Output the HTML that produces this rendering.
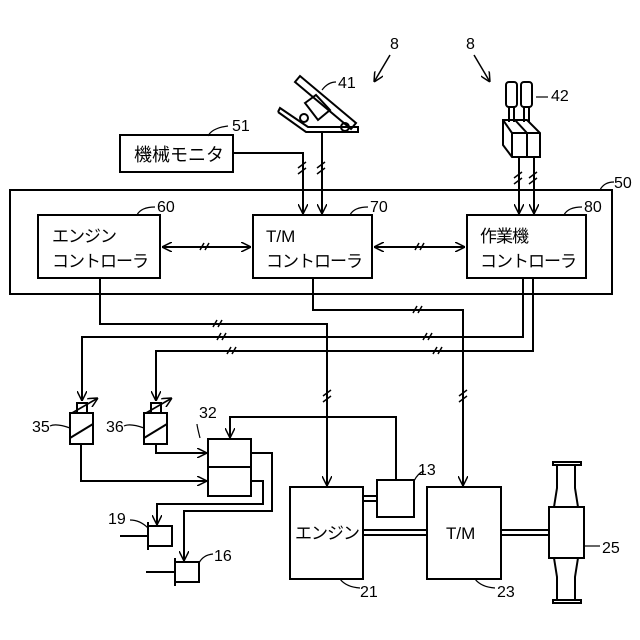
<!DOCTYPE html>
<html><head><meta charset="utf-8"><style>html,body{margin:0;padding:0;background:#fff}svg{display:block}</style></head>
<body>
<svg width="640" height="640" viewBox="0 0 640 640" xmlns="http://www.w3.org/2000/svg" font-family="'Liberation Sans','Noto Sans CJK JP',sans-serif">
<defs>
<marker id="a" viewBox="0 0 10 10" refX="10" refY="5" markerWidth="10" markerHeight="10" markerUnits="userSpaceOnUse" orient="auto-start-reverse"><path d="M0,0 L10,5 L0,10" fill="none" stroke="#000" stroke-width="1.5"/></marker>
</defs>
<g fill="none" stroke="#000" stroke-width="2">
<rect x="10" y="190" width="602" height="104"/>
<rect x="38" y="215" width="122" height="63"/>
<rect x="253" y="215" width="119" height="63"/>
<rect x="467" y="215" width="119" height="63"/>
<rect x="120" y="135" width="113" height="37"/>
<line x1="162" y1="247" x2="251" y2="247" marker-start="url(#a)" marker-end="url(#a)"/>
<line x1="374" y1="247" x2="465" y2="247" marker-start="url(#a)" marker-end="url(#a)"/>
<polyline points="233,153 303,153 303,214" marker-end="url(#a)"/>
<line x1="322" y1="131" x2="322" y2="214" marker-end="url(#a)"/>
<line x1="519" y1="157" x2="519" y2="214" marker-end="url(#a)"/>
<line x1="534" y1="157" x2="534" y2="214" marker-end="url(#a)"/>
<polyline points="100,278 100,324 327,324 327,486" marker-end="url(#a)"/>
<polyline points="313,278 313,310 463,310 463,486" marker-end="url(#a)"/>
<polyline points="523,278 523,337 82,337 82,401" marker-end="url(#a)"/>
<polyline points="533,278 533,351 156,351 156,401" marker-end="url(#a)"/>
<rect x="70" y="413" width="23" height="31"/>
<rect x="77" y="403" width="10" height="10"/>
<line x1="70" y1="438" x2="93" y2="424"/>
<line x1="72" y1="413" x2="98" y2="398" marker-end="url(#a)" stroke-width="1.6"/>
<rect x="144" y="413" width="23" height="31"/>
<rect x="151" y="403" width="10" height="10"/>
<line x1="144" y1="438" x2="167" y2="424"/>
<line x1="146" y1="413" x2="172" y2="398" marker-end="url(#a)" stroke-width="1.6"/>
<rect x="208" y="439" width="43" height="57"/>
<line x1="208" y1="467" x2="251" y2="467"/>
<polyline points="81,444 81,481 207,481" marker-end="url(#a)"/>
<polyline points="156,444 156,453 207,453" marker-end="url(#a)"/>
<polyline points="396,480 396,417 230,417 230,438" marker-end="url(#a)"/>
<polyline points="251,453 272,453 272,511 184,511 184,561" marker-end="url(#a)"/>
<polyline points="251,481 263,481 263,504 157,504 157,525" marker-end="url(#a)"/>
<rect x="148" y="526" width="24" height="20"/>
<line x1="148" y1="522" x2="148" y2="550"/><line x1="120" y1="536" x2="148" y2="536"/>
<rect x="175" y="562" width="24" height="20"/>
<line x1="175" y1="558" x2="175" y2="586"/><line x1="146" y1="572" x2="175" y2="572"/>
<rect x="290" y="487" width="73" height="92"/>
<rect x="377" y="480" width="37" height="37"/>
<rect x="427" y="487" width="74" height="92"/>
<line x1="363" y1="496" x2="377" y2="496"/><line x1="363" y1="501" x2="377" y2="501"/>
<line x1="363" y1="530" x2="427" y2="530"/><line x1="363" y1="535" x2="427" y2="535"/>
<line x1="501" y1="530" x2="549" y2="530"/><line x1="501" y1="535" x2="549" y2="535"/>
<rect x="549" y="507" width="35" height="51"/>
<polyline points="554,507 557,488 557,465 575,465 575,488 578,507"/>
<rect x="553" y="462" width="28" height="3"/>
<polyline points="554,558 557,577 557,600 575,600 575,577 578,558"/>
<rect x="553" y="600" width="28" height="3"/>
<polygon points="295,82 300,76 356,123 351,129"/>
<polyline points="278,112 280,108 308,127 358,127 358,132 306,132 278,112"/>
<polygon points="305,103 316,95 330,110 318,120"/>
<circle cx="304" cy="118" r="4"/><circle cx="345" cy="127" r="4"/>
<rect x="506" y="82" width="11" height="25" rx="3"/><rect x="521" y="82" width="11" height="25" rx="3"/>
<line x1="509" y1="107" x2="509" y2="122"/><line x1="514" y1="107" x2="514" y2="122"/>
<line x1="524" y1="107" x2="524" y2="122"/><line x1="529" y1="107" x2="529" y2="122"/>
<polygon points="503,120 527,120 540,133 540,157 512,157 503,145"/>
<line x1="512" y1="133" x2="540" y2="133"/><line x1="512" y1="133" x2="512" y2="157"/>
<line x1="503" y1="120" x2="512" y2="133"/><line x1="515" y1="120" x2="527" y2="133"/><line x1="527" y1="133" x2="527" y2="157"/>
<line x1="390" y1="55" x2="374" y2="82" marker-end="url(#a)" stroke-width="1.5"/>
<line x1="474" y1="55" x2="490" y2="82" marker-end="url(#a)" stroke-width="1.5"/>
</g>
<g stroke="#000" stroke-width="1.5">
<path d="M298,168 l8,-6 M298,174 l8,-6"/>
<path d="M317,168 l8,-6 M317,174 l8,-6"/>
<path d="M514,178 l8,-6 M514,184 l8,-6"/>
<path d="M529,178 l8,-6 M529,184 l8,-6"/>
<path d="M200,250 l4,-7 M205,250 l4,-7"/>
<path d="M415,250 l4,-7 M420,250 l4,-7"/>
<path d="M213,327 l4,-7 M218,327 l4,-7"/>
<path d="M413,313 l4,-7 M418,313 l4,-7"/>
<path d="M217,340 l4,-7 M222,340 l4,-7"/>
<path d="M423,340 l4,-7 M428,340 l4,-7"/>
<path d="M227,354 l4,-7 M232,354 l4,-7"/>
<path d="M433,354 l4,-7 M438,354 l4,-7"/>
<path d="M323,396 l8,-6 M323,402 l8,-6"/>
<path d="M459,396 l8,-6 M459,402 l8,-6"/>
</g>
<g fill="none" stroke="#000" stroke-width="1.2">
<path d="M208,136 q4,-8 20,-10"/><path d="M600,190 q4,-8 14,-8"/>
<path d="M137,215 q4,-8 18,-8"/><path d="M350,215 q4,-8 18,-8"/><path d="M564,215 q4,-8 18,-8"/>
<path d="M322,90 q6,-8 14,-8"/><path d="M536,97 l12,0"/>
<path d="M50,426 q6,-3 20,2"/><path d="M124,426 q6,-3 20,2"/>
<path d="M200,438 q-3,-12 -3,-14"/>
<path d="M414,481 q4,-8 10,-10"/>
<path d="M130,520 q10,0 18,8"/><path d="M199,563 q4,-8 14,-9"/>
<path d="M340,579 q6,8 20,9"/><path d="M475,579 q6,8 20,9"/><path d="M584,546 l16,0"/>
</g>
<g font-size="16" fill="#000">
<text x="390" y="49">8</text><text x="466" y="49">8</text>
<text x="338" y="88">41</text><text x="551" y="101">42</text>
<text x="232" y="131">51</text><text x="614" y="188">50</text>
<text x="157" y="212">60</text><text x="370" y="212">70</text><text x="584" y="212">80</text>
<text x="32" y="432">35</text><text x="106" y="432">36</text><text x="199" y="418">32</text>
<text x="418" y="475">13</text><text x="108" y="524">19</text><text x="214" y="561">16</text>
<text x="360" y="597">21</text><text x="497" y="597">23</text><text x="602" y="553">25</text>
</g>
<g font-size="18" fill="#000">
<text x="134" y="161">機械モニタ</text>
</g>
<g font-size="17" fill="#000" letter-spacing="-1">
<text x="52" y="242">エンジン</text><text x="52" y="267">コントローラ</text>
<text x="266" y="242" letter-spacing="0">T/M</text><text x="266" y="267">コントローラ</text>
<text x="480" y="242">作業機</text><text x="480" y="267">コントローラ</text>
<text x="295" y="539">エンジン</text>
<text x="446" y="539" letter-spacing="0">T/M</text>
</g>
</svg>
</body></html>
